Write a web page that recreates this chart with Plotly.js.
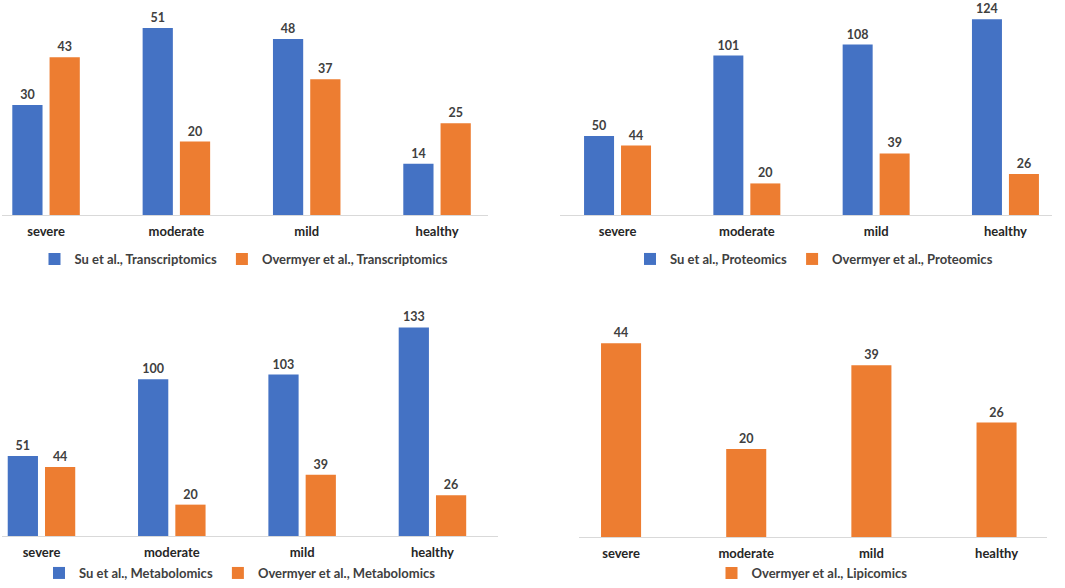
<!DOCTYPE html>
<html>
<head>
<meta charset="utf-8">
<script src="https://cdn.plot.ly/plotly-3.0.1.min.js"></script>
<style>
  html,body{margin:0;padding:0;background:#fff;}
  #chart{width:1065px;height:588px;}
</style>
</head>
<body>
<div id="chart"></div>
<script>
// data
const categories=["severe","moderate","mild","healthy"];
const suTranscriptomics=[30,51,48,14];
const overmyerTranscriptomics=[43,20,37,25];
const suProteomics=[50,101,108,124];
const overmyerProteomics=[44,20,39,26];
const suMetabolomics=[51,100,103,133];
const overmyerMetabolomics=[44,20,39,26];
const overmyerLipicomics=[44,20,39,26];

const BLUE="#4472c4";
const ORANGE="#ed7d31";
const FONT="Lato, 'Open Sans', sans-serif";
const W=1065,H=588;

// bar builder: offset/width in category units
function bars(y,name,color,xa,ya,legend,offset,width){
    return {
        type:"bar",
        x:categories,
        y:y,
        name:name,
        xaxis:xa,
        yaxis:ya,
        legend:legend,
        offset:offset,
        width:width,
        marker:{color:color},
        text:y.map(String),
        textposition:"outside",
        cliponaxis:false,
        textfont:{family:FONT,size:12.5,color:"#404040",weight:"bold"},
        hoverinfo:"x+y+name"
    };
}

const data=[
    bars(suTranscriptomics,"Su et al., Transcriptomics",BLUE,"x","y","legend",-0.259,0.232),
    bars(overmyerTranscriptomics,"Overmyer et al., Transcriptomics",ORANGE,"x","y","legend",0.027,0.232),
    bars(suProteomics,"Su et al., Proteomics",BLUE,"x2","y2","legend2",-0.259,0.232),
    bars(overmyerProteomics,"Overmyer et al., Proteomics",ORANGE,"x2","y2","legend2",0.027,0.232),
    bars(suMetabolomics,"Su et al., Metabolomics",BLUE,"x3","y3","legend3",-0.259,0.232),
    bars(overmyerMetabolomics,"Overmyer et al., Metabolomics",ORANGE,"x3","y3","legend3",0.027,0.232),
    bars(overmyerLipicomics,"Overmyer et al., Lipicomics",ORANGE,"x4","y4","legend4",-0.16,0.32)
];

// axis helpers, pixel positions converted to paper fractions
function xax(px0,px1,range,anchor){
    return {
        type:"category",
        anchor:anchor,
        domain:[px0/W,px1/W],
        range:range,
        showline:true,
        linecolor:"#d9d9d9",
        linewidth:1,
        showgrid:false,
        zeroline:false,
        ticks:"",
        ticklabelstandoff:4,
        tickfont:{family:FONT,size:13,color:"#262626",weight:"bold"},
        fixedrange:true
    };
}
function yax(baseline,top,max,anchor){
    return {
        anchor:anchor,
        domain:[(H-baseline)/H,(H-top)/H],
        range:[0,max],
        visible:false,
        showgrid:false,
        zeroline:false,
        fixedrange:true
    };
}
function leg(cx,y,yanchor){
    return {
        orientation:"h",
        x:cx/W,
        y:y,
        xanchor:"center",
        yanchor:yanchor,
        font:{family:FONT,size:13,color:"#404040",weight:"bold"},
        itemwidth:30,
        bgcolor:"rgba(0,0,0,0)",
        itemclick:false,
        itemdoubleclick:false
    };
}

const layout={
    width:W,
    height:H,
    margin:{l:0,r:0,t:0,b:0},
    paper_bgcolor:"#ffffff",
    plot_bgcolor:"#ffffff",
    barmode:"overlay",
    showlegend:true,
    xaxis:xax(2,488,[-0.338,3.391],"y"),
    yaxis:yax(215,0,58.6,"x"),
    xaxis2:xax(560,1052,[-0.445,3.36],"y2"),
    yaxis2:yax(215,0,136.2,"x2"),
    xaxis3:xax(2,498,[-0.303,3.503],"y3"),
    yaxis3:yax(536,290,156.9,"x3"),
    xaxis4:xax(579,1047,[-0.336,3.403],"y4"),
    yaxis4:yax(537,290,56.1,"x4"),
    legend:leg(244,1-259/H,"middle"),
    legend2:leg(814,1-259/H,"middle"),
    legend3:leg(240,0,"bottom"),
    legend4:leg(812,0,"bottom")
};

Plotly.newPlot("chart",data,layout,{displayModeBar:false,staticPlot:true});
</script>
</body>
</html>
